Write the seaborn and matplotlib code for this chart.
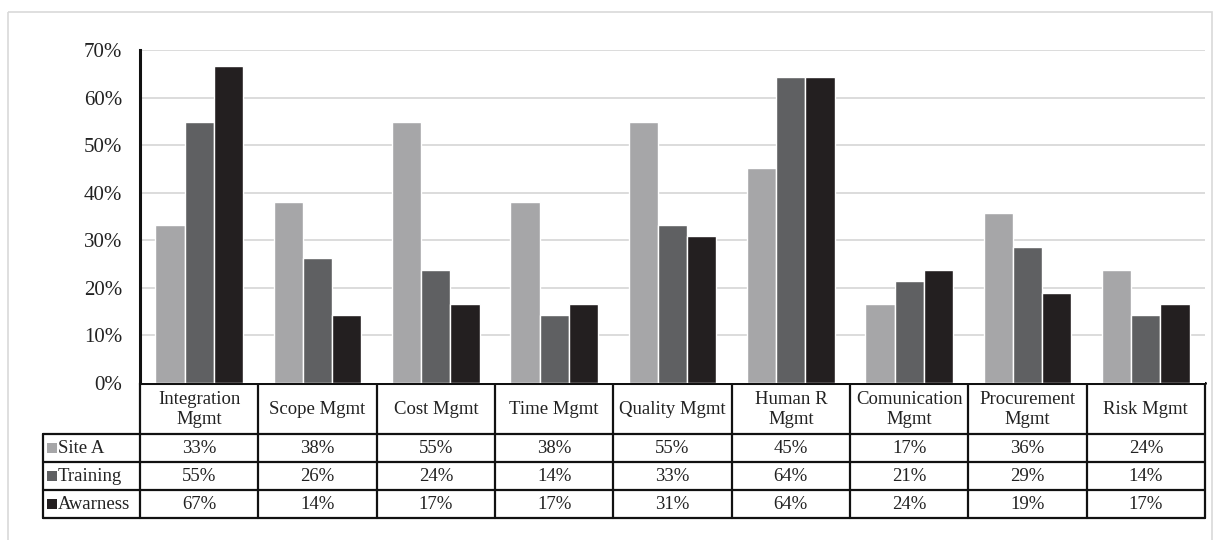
import pandas as pd
import numpy as np
import seaborn as sns
import matplotlib.pyplot as plt
from matplotlib.patches import Rectangle
from matplotlib.ticker import PercentFormatter

categories = ["Integration\nMgmt", "Scope Mgmt", "Cost Mgmt", "Time Mgmt", "Quality Mgmt",
              "Human R\nMgmt", "Comunication\nMgmt", "Procurement\nMgmt", "Risk Mgmt"]
series = ["Site A", "Training", "Awarness"]
site_a = [33.3, 38.1, 54.8, 38.1, 54.8, 45.2, 16.7, 35.7, 23.8]
training = [54.8, 26.2, 23.8, 14.3, 33.3, 64.3, 21.4, 28.6, 14.3]
awarness = [66.7, 14.3, 16.7, 16.7, 31.0, 64.3, 23.8, 19.0, 16.7]
colors = ["#A6A6A8", "#5F6062", "#231F20"]

df = pd.DataFrame({"cat": categories * 3,
                   "series": sum([[s] * len(categories) for s in series], []),
                   "value": site_a + training + awarness})

sns.set_style("white")
plt.rcParams['font.family'] = ['Liberation Serif', 'DejaVu Serif']

W, H = 1214, 540
fig = plt.figure(figsize=(W / 100, H / 100), dpi=100)

# outer chart frame
frame = fig.add_axes([0, 0, 1, 1])
frame.set_xlim(0, W)
frame.set_ylim(H, 0)
frame.axis("off")
frame.add_patch(Rectangle((8, 12), 1204, 540, fill=False, ec="#D9D9D9", lw=1.2))

# plot area in pixels
x0, x1 = 140, 1205
y_top, y_base = 50, 383
ax = fig.add_axes([x0 / W, 1 - y_base / H, (x1 - x0) / W, (y_base - y_top) / H])
sns.barplot(data=df, x="cat", y="value", hue="series", palette=colors, saturation=1,
            width=0.74, gap=0, ax=ax, legend=False)
ax.set_xlim(-0.5, len(categories) - 0.5)
ax.set_ylim(0, 70)
ax.set_yticks(np.arange(0, 71, 10))
ax.yaxis.set_major_formatter(PercentFormatter(decimals=0))
ax.tick_params(axis="y", length=0, pad=13, labelsize=15, colors="#222222")
ax.set_xticks([])
ax.set_xlabel("")
ax.set_ylabel("")
for y in range(10, 71, 10):
    ax.axhline(y, color="#D9D9D9", lw=1.3, zorder=0)
for s in ["top", "right", "bottom"]:
    ax.spines[s].set_visible(False)
ax.spines["left"].set_color("#111111")
ax.spines["left"].set_linewidth(2.2)

# data table drawn under the plot
tx0 = 43
col_w = (x1 - x0) / len(categories)
rows_y = [383, 434, 462, 490, 518]
tcol = "#111111"
frame.plot([x0, x1], [rows_y[0], rows_y[0]], color=tcol, lw=2.2)
for yy in rows_y[1:]:
    frame.plot([tx0, x1], [yy, yy], color=tcol, lw=1.6)
frame.plot([tx0, tx0], [rows_y[1], rows_y[-1]], color=tcol, lw=1.6)
for k in range(len(categories) + 1):
    xx = x0 + k * col_w
    frame.plot([xx, xx], [rows_y[0], rows_y[-1]], color=tcol, lw=1.6)

fs = 13.5
for k, cat in enumerate(categories):
    cx = x0 + (k + 0.5) * col_w
    frame.text(cx, (rows_y[0] + rows_y[1]) / 2 + 1, cat, ha="center", va="center",
               fontsize=fs, linespacing=1.2, color="#222222")

values = [site_a, training, awarness]
for r, (name, vals, c) in enumerate(zip(series, values, colors)):
    cy = (rows_y[r + 1] + rows_y[r + 2]) / 2
    frame.add_patch(Rectangle((47, cy - 5), 10, 10, color=c, lw=0))
    frame.text(58, cy + 0.5, name, ha="left", va="center", fontsize=fs, color="#222222")
    for k, v in enumerate(vals):
        cx = x0 + (k + 0.5) * col_w
        frame.text(cx, cy + 0.5, f"{round(v)}%", ha="center", va="center",
                   fontsize=fs, color="#222222")

fig.savefig("out.png", dpi=100)
